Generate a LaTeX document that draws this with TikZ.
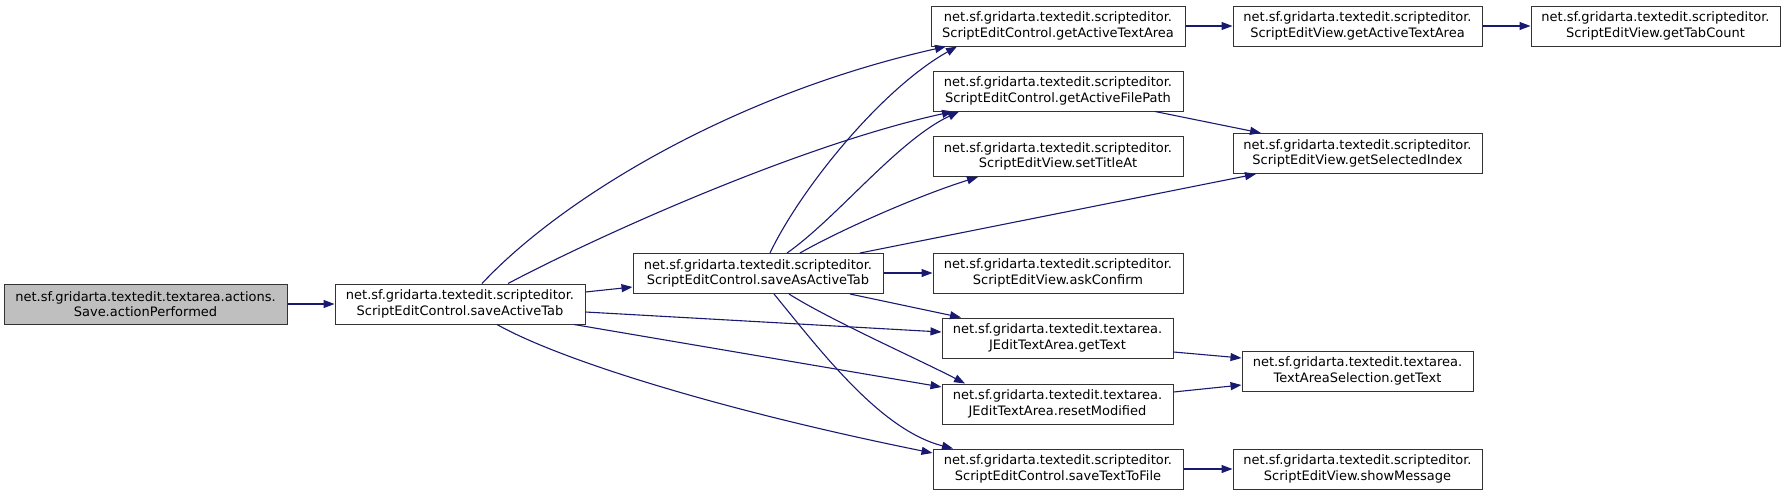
\documentclass[tikz,border=0pt]{standalone}
\usepackage{fontspec}
\setmainfont{DejaVu Sans}
\usetikzlibrary{arrows.meta}
\definecolor{edgec}{HTML}{191970}
\definecolor{nodegray}{HTML}{BFBFBF}
\begin{document}
\begin{tikzpicture}[x=1pt,y=-1pt,
 box/.style={draw=black!80, line width=1pt, fill=white, align=center, inner sep=0pt,
   minimum height=40pt, minimum width=250pt, font=\fontsize{13}{15.5}\selectfont},
 edge/.style={draw=edgec, line width=1.1pt, -{Triangle[length=11pt,width=8pt]}}]
\useasboundingbox (0,0) rectangle (1785,496);
% nodes
\node[box, minimum width=283pt, fill=nodegray] (A) at (145.5,304) {net.sf.gridarta.textedit.textarea.actions.\\Save.actionPerformed};
\node[box] (B) at (460,304) {net.sf.gridarta.textedit.scripteditor.\\ScriptEditControl.saveActiveTab};
\node[box] (C) at (758,273.5) {net.sf.gridarta.textedit.scripteditor.\\ScriptEditControl.saveAsActiveTab};
\node[box, minimum width=254pt] (D1) at (1058,26) {net.sf.gridarta.textedit.scripteditor.\\ScriptEditControl.getActiveTextArea};
\node[box] (D2) at (1058,91) {net.sf.gridarta.textedit.scripteditor.\\ScriptEditControl.getActiveFilePath};
\node[box] (D3) at (1058,156.5) {net.sf.gridarta.textedit.scripteditor.\\ScriptEditView.setTitleAt};
\node[box] (D4) at (1058,273) {net.sf.gridarta.textedit.scripteditor.\\ScriptEditView.askConfirm};
\node[box, minimum width=231pt] (D5) at (1057.5,338) {net.sf.gridarta.textedit.textarea.\\JEditTextArea.getText};
\node[box, minimum width=231pt] (D6) at (1057.5,404) {net.sf.gridarta.textedit.textarea.\\JEditTextArea.resetModified};
\node[box] (D7) at (1058,469) {net.sf.gridarta.textedit.scripteditor.\\ScriptEditControl.saveTextToFile};
\node[box, minimum width=249pt] (E1) at (1357.5,26) {net.sf.gridarta.textedit.scripteditor.\\ScriptEditView.getActiveTextArea};
\node[box, minimum width=249pt] (E2) at (1357.5,153.5) {net.sf.gridarta.textedit.scripteditor.\\ScriptEditView.getSelectedIndex};
\node[box, minimum width=231pt] (E3) at (1357.5,371) {net.sf.gridarta.textedit.textarea.\\TextAreaSelection.getText};
\node[box, minimum width=249pt] (E4) at (1357.5,469) {net.sf.gridarta.textedit.scripteditor.\\ScriptEditView.showMessage};
\node[box, minimum width=249pt] (F) at (1655.5,26) {net.sf.gridarta.textedit.scripteditor.\\ScriptEditView.getTabCount};
% edges
\draw[edge] (A) -- (B);
\draw[edge] (B.east |- 0,292) -- (C.west |- 0,287);
\draw[edge] (482,0 |- B.north) .. controls (560,200) and (730,95) .. (946,0 |- D1.south);
\draw[edge] (508,0 |- B.north) .. controls (600,235) and (800,145) .. (953,0 |- D2.south);
\draw[edge] (B.east |- 0,312) -- (D5.west |- 0,332);
\draw[edge] (574,0 |- B.south) -- (D6.west |- 0,387);
\draw[edge] (497,0 |- B.south) .. controls (560,360) and (720,410) .. (D7.west |- 0,453);
\draw[edge] (770,0 |- C.north) .. controls (800,190) and (880,90) .. (957,0 |- D1.south);
\draw[edge] (787,0 |- C.north) .. controls (837,218) and (897,141) .. (959,0 |- D2.south);
\draw[edge] (800,0 |- C.north) .. controls (840,230) and (920,195) .. (978,0 |- D3.south);
\draw[edge] (860,0 |- C.north) -- (1256,0 |- E2.south);
\draw[edge] (C.east |- 0,273) -- (D4.west |- 0,273);
\draw[edge] (850,0 |- C.south) -- (961,0 |- D5.north);
\draw[edge] (789,0 |- C.south) .. controls (830,320) and (920,360) .. (965,0 |- D6.north);
\draw[edge] (774,0 |- C.south) .. controls (820,350) and (880,430) .. (953,0 |- D7.north);
\draw[edge] (D1) -- (E1);
\draw[edge] (E1) -- (F);
\draw[edge] (1155,0 |- D2.south) -- (1261,0 |- E2.north);
\draw[edge] (D5.east |- 0,352) -- (E3.west |- 0,358);
\draw[edge] (D6.east |- 0,392) -- (E3.west |- 0,385);
\draw[edge] (D7) -- (E4);
\end{tikzpicture}
\end{document}
